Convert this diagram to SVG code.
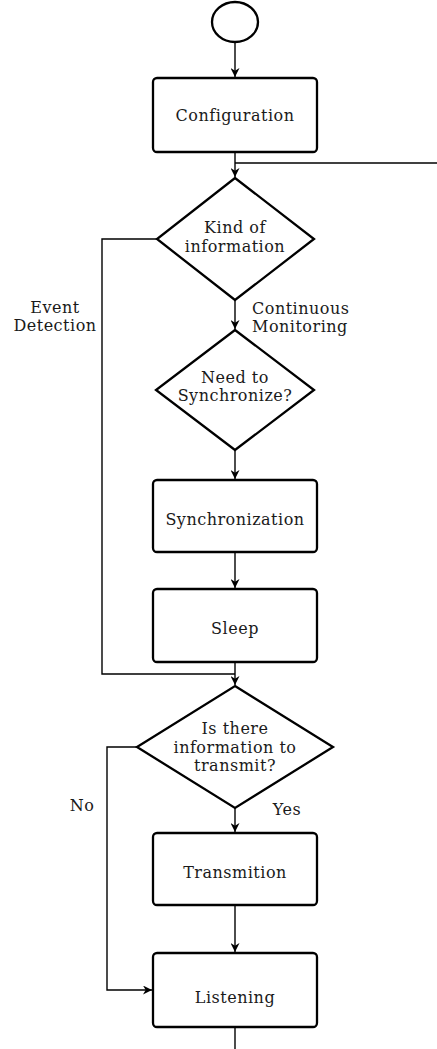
<svg xmlns="http://www.w3.org/2000/svg" width="437" height="1049" viewBox="0 0 437 1049">
<style>
.n{fill:#fff;stroke:#000;stroke-width:2.3}
.t{font-family:"DejaVu Serif","Liberation Serif",serif;font-size:16px;letter-spacing:0.5px;fill:#1a1a1a;text-anchor:middle}
.l{font-family:"DejaVu Serif","Liberation Serif",serif;font-size:16px;letter-spacing:0.5px;fill:#1a1a1a}
.c{fill:none;stroke:#000;stroke-width:1.4}
</style>
<defs>
<marker id="a" viewBox="0 0 10 10" refX="10" refY="5" markerWidth="9" markerHeight="9" orient="auto" markerUnits="userSpaceOnUse">
<path d="M0,0 L10,5 L0,10 L3,5 z" fill="#000"/>
</marker>
</defs>
<rect width="437" height="1049" fill="#fff"/>
<g id="connectors">
<path class="c" d="M235,42 V77" marker-end="url(#a)"/>
<path class="c" d="M235,152 V177" marker-end="url(#a)"/>
<path class="c" d="M235,163 H437"/>
<path class="c" d="M235,300 V329" marker-end="url(#a)"/>
<path class="c" d="M157,239 H102 V674 H235"/>
<path class="c" d="M235,450 V479" marker-end="url(#a)"/>
<path class="c" d="M235,552 V588" marker-end="url(#a)"/>
<path class="c" d="M235,662 V685" marker-end="url(#a)"/>
<path class="c" d="M235,808 V832" marker-end="url(#a)"/>
<path class="c" d="M137,747 H107 V990 H152" marker-end="url(#a)"/>
<path class="c" d="M235,905 V952" marker-end="url(#a)"/>
<path class="c" d="M235,1027 V1049"/>
<text class="l" x="55" y="313" text-anchor="middle">Event</text>
<text class="l" x="55" y="331" text-anchor="middle">Detection</text>
<text class="l" x="252" y="314">Continuous</text>
<text class="l" x="252" y="332">Monitoring</text>
<text class="l" x="82" y="811" text-anchor="middle">No</text>
<text class="l" x="287" y="815" text-anchor="middle">Yes</text>
</g>
<g id="start"><ellipse class="n" cx="235" cy="22" rx="23" ry="20"/></g>
<g id="configuration"><rect class="n" x="153" y="78" width="164" height="74" rx="4"/><text class="t" x="235" y="121">Configuration</text></g>
<g id="kind"><polygon class="n" points="235,178 314,239 235,300 157,239"/><text class="t" x="235" y="233">Kind of</text><text class="t" x="235" y="252">information</text></g>
<g id="needsync"><polygon class="n" points="235,330 314,390 235,450 156,390"/><text class="t" x="235" y="383">Need to</text><text class="t" x="235" y="401">Synchronize?</text></g>
<g id="synchronization"><rect class="n" x="153" y="480" width="164" height="72" rx="4"/><text class="t" x="235" y="525">Synchronization</text></g>
<g id="sleep"><rect class="n" x="153" y="589" width="164" height="73" rx="4"/><text class="t" x="235" y="634">Sleep</text></g>
<g id="transmitq"><polygon class="n" points="235,686 333,747 235,808 137,747"/><text class="t" x="235" y="734">Is there</text><text class="t" x="235" y="753">information to</text><text class="t" x="235" y="771">transmit?</text></g>
<g id="transmition"><rect class="n" x="153" y="833" width="164" height="72" rx="4"/><text class="t" x="235" y="878">Transmition</text></g>
<g id="listening"><rect class="n" x="153" y="953" width="164" height="74" rx="4"/><text class="t" x="235" y="1003">Listening</text></g>
</svg>
